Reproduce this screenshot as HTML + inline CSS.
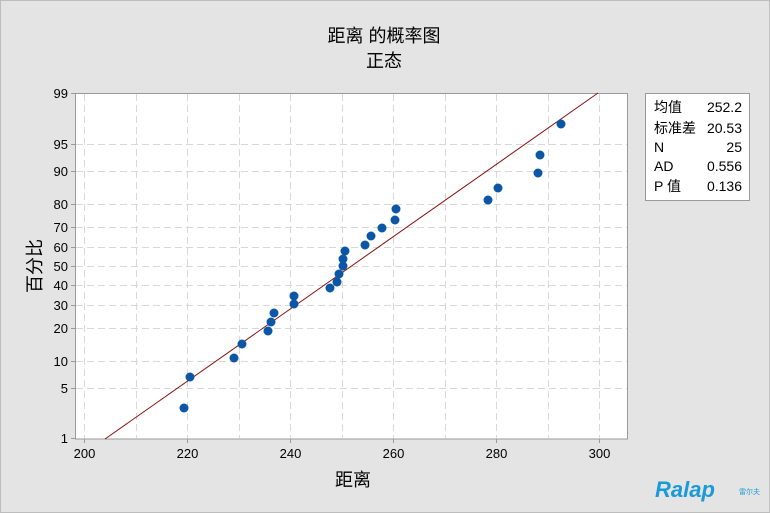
<!DOCTYPE html>
<html><head><meta charset="utf-8"><style>
body{margin:0;background:#e4e4e4;}
svg{display:block;font-family:"Liberation Sans","Noto Sans CJK SC",sans-serif;}
</style></head><body>
<svg width="770" height="513" viewBox="0 0 770 513">
<rect x="0" y="0" width="770" height="513" fill="#e4e4e4"/>
<rect x="0.5" y="0.5" width="769" height="512" fill="none" stroke="#bdbdbd"/>
<text x="384" y="42" font-size="18" text-anchor="middle" fill="#000">距离 的概率图</text>
<text x="384" y="67" font-size="18" text-anchor="middle" fill="#000">正态</text>
<rect x="75.5" y="93.5" width="552" height="345.5" fill="#fff" stroke="#9a9a9a"/>
<g stroke="#d8d8d8" stroke-dasharray="7,4" stroke-width="1">
<line x1="84.5" y1="94" x2="84.5" y2="438"/>
<line x1="136.5" y1="94" x2="136.5" y2="438"/>
<line x1="187.5" y1="94" x2="187.5" y2="438"/>
<line x1="239.5" y1="94" x2="239.5" y2="438"/>
<line x1="290.5" y1="94" x2="290.5" y2="438"/>
<line x1="342.5" y1="94" x2="342.5" y2="438"/>
<line x1="393.5" y1="94" x2="393.5" y2="438"/>
<line x1="445.5" y1="94" x2="445.5" y2="438"/>
<line x1="496.5" y1="94" x2="496.5" y2="438"/>
<line x1="548.5" y1="94" x2="548.5" y2="438"/>
<line x1="599.5" y1="94" x2="599.5" y2="438"/>
<line x1="76" y1="388.5" x2="627" y2="388.5"/>
<line x1="76" y1="361.5" x2="627" y2="361.5"/>
<line x1="76" y1="328.5" x2="627" y2="328.5"/>
<line x1="76" y1="305.5" x2="627" y2="305.5"/>
<line x1="76" y1="285.5" x2="627" y2="285.5"/>
<line x1="76" y1="266.5" x2="627" y2="266.5"/>
<line x1="76" y1="247.5" x2="627" y2="247.5"/>
<line x1="76" y1="227.5" x2="627" y2="227.5"/>
<line x1="76" y1="204.5" x2="627" y2="204.5"/>
<line x1="76" y1="171.5" x2="627" y2="171.5"/>
<line x1="76" y1="144.5" x2="627" y2="144.5"/>
</g>
<g stroke="#9a9a9a">
<line x1="71" y1="93.5" x2="75" y2="93.5"/><line x1="71" y1="144.5" x2="75" y2="144.5"/><line x1="71" y1="171.5" x2="75" y2="171.5"/><line x1="71" y1="204.5" x2="75" y2="204.5"/><line x1="71" y1="227.5" x2="75" y2="227.5"/><line x1="71" y1="247.5" x2="75" y2="247.5"/><line x1="71" y1="266.5" x2="75" y2="266.5"/><line x1="71" y1="285.5" x2="75" y2="285.5"/><line x1="71" y1="305.5" x2="75" y2="305.5"/><line x1="71" y1="328.5" x2="75" y2="328.5"/><line x1="71" y1="361.5" x2="75" y2="361.5"/><line x1="71" y1="388.5" x2="75" y2="388.5"/><line x1="71" y1="438.5" x2="75" y2="438.5"/>
<line x1="84.5" y1="439" x2="84.5" y2="443"/><line x1="187.5" y1="439" x2="187.5" y2="443"/><line x1="290.5" y1="439" x2="290.5" y2="443"/><line x1="393.5" y1="439" x2="393.5" y2="443"/><line x1="496.5" y1="439" x2="496.5" y2="443"/><line x1="599.5" y1="439" x2="599.5" y2="443"/>
</g>
<g font-size="13" fill="#000" text-anchor="end">
<text x="68" y="98">99</text><text x="68" y="149">95</text><text x="68" y="176">90</text><text x="68" y="209">80</text><text x="68" y="232">70</text><text x="68" y="252">60</text><text x="68" y="271">50</text><text x="68" y="290">40</text><text x="68" y="310">30</text><text x="68" y="333">20</text><text x="68" y="366">10</text><text x="68" y="393">5</text><text x="68" y="443">1</text>
</g>
<g font-size="13" fill="#000" text-anchor="middle">
<text x="84.5" y="458">200</text><text x="187.5" y="458">220</text><text x="290.5" y="458">240</text><text x="393.5" y="458">260</text><text x="496.5" y="458">280</text><text x="599.5" y="458">300</text>
</g>
<text x="353" y="486" font-size="18" text-anchor="middle">距离</text>
<text transform="translate(41,266) rotate(-90)" font-size="18" text-anchor="middle">百分比</text>
<line x1="105" y1="439" x2="598" y2="93" stroke="#8b1010" stroke-width="1"/>
<g fill="#0b57a6">
<circle cx="184" cy="408" r="4.5"/><circle cx="190" cy="377" r="4.5"/><circle cx="234" cy="358" r="4.5"/><circle cx="242" cy="344" r="4.5"/><circle cx="268" cy="331" r="4.5"/><circle cx="271" cy="322" r="4.5"/><circle cx="274" cy="313" r="4.5"/><circle cx="294" cy="304" r="4.5"/><circle cx="294" cy="296" r="4.5"/><circle cx="330" cy="288" r="4.5"/><circle cx="337" cy="282" r="4.5"/><circle cx="339" cy="274" r="4.5"/><circle cx="343" cy="266" r="4.5"/><circle cx="343" cy="259" r="4.5"/><circle cx="345" cy="251" r="4.5"/><circle cx="365" cy="245" r="4.5"/><circle cx="371" cy="236" r="4.5"/><circle cx="382" cy="228" r="4.5"/><circle cx="395" cy="220" r="4.5"/><circle cx="396" cy="209" r="4.5"/><circle cx="488" cy="200" r="4.5"/><circle cx="498" cy="188" r="4.5"/><circle cx="538" cy="173" r="4.5"/><circle cx="540" cy="155" r="4.5"/><circle cx="561" cy="124" r="4.5"/>
</g>
<rect x="645.5" y="93.5" width="104" height="107" fill="#fff" stroke="#9a9a9a"/>
<g font-size="14" fill="#000">
<text x="654" y="112">均值</text><text x="742" y="112" text-anchor="end">252.2</text>
<text x="654" y="133">标准差</text><text x="742" y="133" text-anchor="end">20.53</text>
<text x="654" y="152">N</text><text x="742" y="152" text-anchor="end">25</text>
<text x="654" y="171">AD</text><text x="742" y="171" text-anchor="end">0.556</text>
<text x="654" y="191">P 值</text><text x="742" y="191" text-anchor="end">0.136</text>
</g>
<text x="655" y="497" font-size="22" font-weight="bold" font-style="italic" fill="#1a9ad6" font-family="Liberation Sans,sans-serif">Ralap</text>
<text x="739" y="494" font-size="7" fill="#1a9ad6">雷尔夫</text>
</svg>
</body></html>
